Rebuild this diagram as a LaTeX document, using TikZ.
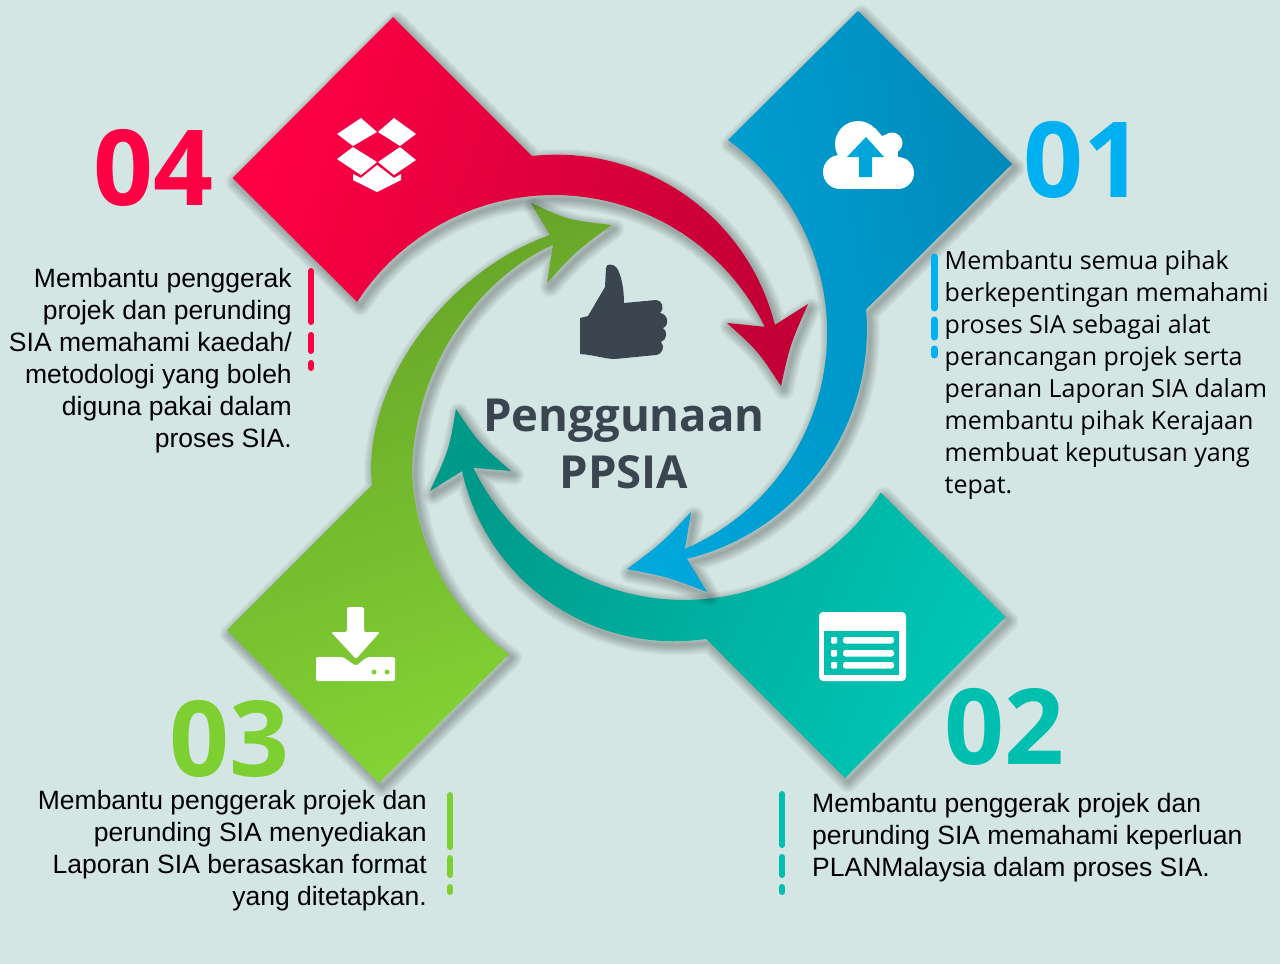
\documentclass[tikz,border=0pt]{standalone}
\usepackage{fontspec}
\setmainfont{Liberation Sans}
\newfontfamily\segfont{Open Sans}
\usetikzlibrary{shapes.geometric}
\definecolor{bgc}{HTML}{D3E6E3}
\definecolor{redA}{HTML}{FF0045}\definecolor{redB}{HTML}{C20035}
\definecolor{bluA}{HTML}{00A8DC}\definecolor{bluB}{HTML}{008ABA}
\definecolor{teaA}{HTML}{009A8B}\definecolor{teaB}{HTML}{00C6B5}
\definecolor{greA}{HTML}{65A127}\definecolor{greB}{HTML}{84D435}
\definecolor{ink}{HTML}{3B4550}
\definecolor{numred}{HTML}{FF0045}\definecolor{numblu}{HTML}{00B0F0}
\definecolor{numtea}{HTML}{00BFAE}\definecolor{numgre}{HTML}{7ED032}
\tikzset{
  numlabel/.style={font=\segfont\bfseries\fontsize{105}{105}\selectfont,inner sep=0pt,anchor=base west},
  bodyleft/.style={font=\fontsize{26.5}{32}\selectfont,align=left,anchor=north west,inner sep=0pt,text=black},
  bodyright/.style={font=\fontsize{26.5}{32}\selectfont,align=right,anchor=north east,inner sep=0pt,text=black},
  bodyseg/.style={font=\segfont\fontsize{25}{32}\selectfont,align=left,anchor=north west,inner sep=0pt,text=black},
  titletxt/.style={font=\segfont\bfseries\fontsize{45.5}{57}\selectfont,align=center,inner sep=0pt,text=ink},
  barline/.style={line width=#1,line cap=round},
}
\newcommand{\softshadow}[1]{%
  \begin{scope}[shift={(3,4)}]
  \foreach \w in {20,18,...,2}{
    \path[draw=black,draw opacity=.026,line width=\w pt,line join=round] #1;
  }
  \end{scope}}
% circular (or slightly spiral) edge: centre x, centre y, radius at start, radius at end, start angle, end angle
\newcommand{\arcplot}[6]{-- plot[domain=#5:#6,samples=40,variable=\t] ({#1+(#3+(#4-#3)*(\t-(#5))/((#6)-(#5)))*cos(\t)},{#2+(#3+(#4-#3)*(\t-(#5))/((#6)-(#5)))*sin(\t)})}
\def\redshape{(393,17) \arcplot{557}{380}{225.4}{224.8}{-96.4}{-14.2} -- (808,304) .. controls (790,345) .. (781,386) .. controls (758,351) .. (727,323) \arcplot{553.9}{429.7}{234.7}{234.7}{-26}{-147} -- (232.6,178) -- cycle}
\def\blushape{(858,11) -- (1012,164) \arcplot{630}{330}{237}{235.9}{-5}{76} -- (707,592) .. controls (668,577) .. (627,569) .. controls (662,543) .. (691,512) \arcplot{591}{335}{233.7}{238.3}{66.3}{-54.9} -- cycle}
\def\teashape{(881,493) -- (1005.5,617) -- (845,778) \arcplot{672}{423}{218.6}{215.4}{81}{167.1} -- (430,491) .. controls (449,450) .. (456,409) .. controls (479,443) .. (511,471) \arcplot{684}{366}{234}{234}{154.2}{32.8} -- cycle}
\def\greshape{(227,630) -- (372,485) -- (371,470) .. controls (371,370) and (455,268) .. (550,235) -- (531,203) .. controls (568,220) .. (611.5,225) .. controls (575,252) .. (547,283) -- (553,245) .. controls (490,272) and (415,355) .. (412,470) \arcplot{647}{465}{235}{234}{178.8}{126.1} -- (379,783) -- cycle}
\begin{document}
\begin{tikzpicture}[x=1pt,y=-1pt]
\useasboundingbox (0,0) rectangle (1280,964);
\fill[bgc] (0,0) rectangle (1280,964);
% arrows, back to front
\softshadow{\greshape}
\path[top color=greA,bottom color=greB,shading angle=20] \greshape;
\softshadow{\teashape}
\path[top color=teaA,bottom color=teaB,shading angle=65] \teashape;
\softshadow{\blushape}
\path[top color=bluA,bottom color=bluB,shading angle=100] \blushape;
\softshadow{\redshape}
\path[top color=redA,bottom color=redB,shading angle=70] \redshape;
% dropbox icon
\fill[white] (337,134)--(361,118)--(377,132)--(353,146)--cycle;
\fill[white] (378,132)--(394,118)--(416,134)--(400,146)--cycle;
\fill[white] (353,147)--(377,162)--(361,175)--(337,159)--cycle;
\fill[white] (400,147)--(416,160)--(394,175)--(378,162)--cycle;
\fill[white] (353,174)--(361,178)--(377,165)--(394,178)--(401,174)--(401,180)--(377,192)--(353,180)--cycle;
% cloud icon
\fill[white] (858,144) circle[radius=23];
\fill[white] (892,143) circle[radius=10.5];
\fill[white] (840,172) circle[radius=17];
\fill[white] (898,173) circle[radius=16];
\fill[white] (842,150) rectangle (898,189);
\fill[white] (875,128) -- (882,136) -- (888,134) -- (896,152) -- (870,152) -- cycle;
\fill[bluA!94!bluB] (866,137)--(884,157)--(872,157)--(872,177)--(859,177)--(859,157)--(847,157)--cycle;
% list icon
\fill[white,rounded corners=4pt] (819,612) rectangle (906,681);
\fill[numtea] (824,631) rectangle (899,675);
\foreach \yy in {637,650,662}{
  \fill[white,rounded corners=1pt] (831,\yy) rectangle (837,\yy+6.5);
  \fill[white,rounded corners=2.5pt] (843,\yy) rectangle (894,\yy+6.5);
}
% download icon
\fill[white,rounded corners=1.5pt] (347,607) -- (364,607) -- (364,632) -- (380,632) -- (356,659) -- (331,632) -- (347,632) -- cycle;
\fill[white,rounded corners=2pt] (316,657) -- (343,657) -- (356,666) -- (367,657) -- (395,657) -- (395,681) -- (316,681) -- cycle;
\fill[greB!92!greA] (374,672) circle[radius=2.5];
\fill[greB!92!greA] (387,672) circle[radius=2.5];
% thumb
\fill[ink] (580,354) -- (580,318) -- (588,316) -- (605,287) -- (606,268) .. controls (606,263) and (613,264) .. (616,267) .. controls (621,273) and (624,288) .. (624,303) -- (656,300) .. controls (662,300) and (665,308) .. (660,313) .. controls (668,314) and (670,325) .. (663,328) .. controls (668,331) and (667,340) .. (661,342) .. controls (665,346) and (663,354) .. (656,355) -- (615,359) .. controls (605,359) and (595,355) .. (580,354) -- cycle;
% bars
\foreach \a/\b in {271/322,335/351,363/368}{\draw[numred,barline=6pt] (311,\a) -- (311,\b);}
\foreach \a/\b in {257/308,320/337,349/355}{\draw[numblu,barline=7pt] (934,\a) -- (934,\b);}
\foreach \a/\b in {795/847,858/875,887/892}{\draw[numgre,barline=6pt] (450,\a) -- (450,\b);}
\foreach \a/\b in {794/845,857/875,887/892}{\draw[numtea,barline=6pt] (782,\a) -- (782,\b);}
% numbers
\node[numlabel,text=numred] (n4) at (93,205) {04};
\node[numlabel,text=numblu] (n1) at (1023,197) {01};
\node[numlabel,text=numtea] (n2) at (944,764) {02};
\node[numlabel,text=numgre] (n3) at (169,776) {03};
% title
\node[titletxt] (title) at (624,444) {Penggunaan\\PPSIA};
% body
\node[bodyright] (t4) at (292,268) {Membantu penggerak\\projek dan perunding\\SIA memahami kaedah/\\metodologi yang boleh\\diguna pakai dalam\\proses SIA.};
\node[bodyseg] (t1) at (944.5,250) {Membantu semua pihak\\berkepentingan memahami\\proses SIA sebagai alat\\perancangan projek serta\\peranan Laporan SIA dalam\\membantu pihak Kerajaan\\membuat keputusan yang\\tepat.};
\node[bodyright] (t3) at (427,790) {Membantu penggerak projek dan\\perunding SIA menyediakan\\Laporan SIA berasaskan format\\yang ditetapkan.};
\node[bodyleft] (t2) at (812,793) {Membantu penggerak projek dan\\perunding SIA memahami keperluan\\PLANMalaysia dalam proses SIA.};
\end{tikzpicture}
\end{document}
